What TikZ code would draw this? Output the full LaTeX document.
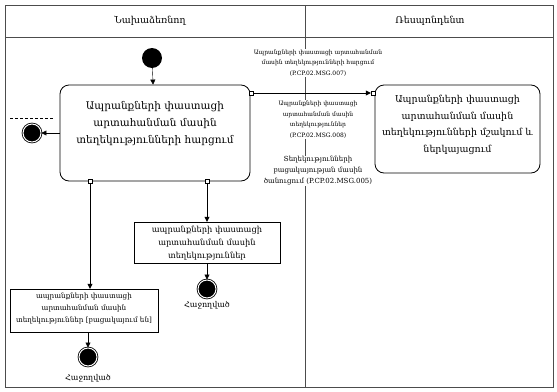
\documentclass[tikz,border=0pt]{standalone}
\usepackage{fontspec}
\setmainfont{DejaVu Serif}
\usetikzlibrary{arrows.meta}
\tikzset{
  lanehead/.style={font=\fontsize{9.5}{11}\selectfont},
  action/.style={draw, rounded corners=9pt, thick},
  actiontext/.style={align=center, inner sep=0pt},
  objbox/.style={draw, fill=white},
  objtext/.style={align=center, inner sep=0pt},
  initst/.style={circle, fill=black, minimum size=20pt, inner sep=0pt},
  finalst/.style={circle, draw, thick, fill=black, double=white, double distance=1pt, minimum size=18pt, inner sep=0pt},
  pinbox/.style={draw, fill=white, minimum size=4pt, inner sep=0pt},
  msglabel/.style={align=center, fill=white, inner sep=1pt, font=\fontsize{6}{10.5}\selectfont},
  flow/.style={-{Triangle[length=5pt,width=5pt]}},
  endlabel/.style={font=\fontsize{8}{10}\selectfont}
}
\begin{document}
\begin{tikzpicture}[x=1pt,y=-1pt]
\useasboundingbox (0,0) rectangle (557,391);
\draw[gray!60!black] (5,5) rectangle (553,387);
\draw[gray!60!black] (5,37) -- (553,37);
\draw[gray!60!black] (305,5) -- (305,387);
\node[lanehead] (h1) at (150,21) {Նախաձեռնող};
\node[lanehead] (h2) at (430,21) {Ռեսպոնդենտ};

\node[initst] (start) at (152,58) {};
\node[action, minimum width=190pt, minimum height=96pt] (req) at (155,133) {};
\node[actiontext, font=\fontsize{10.5}{17}\selectfont] (reqtext) at (155,124)
  {Ապրանքների փաստացի\\արտահանման մասին\\տեղեկությունների հարցում};
\node[action, minimum width=165pt, minimum height=88pt] (proc) at (457.5,129) {};
\node[actiontext, font=\fontsize{9.5}{16.5}\selectfont] (proctext) at (457.5,125)
  {Ապրանքների փաստացի\\արտահանման մասին\\տեղեկությունների մշակում և\\ներկայացում};
\node[finalst] (endL) at (32,133) {};
\coordinate (tagA) at (10,118);
\coordinate (tagB) at (53,118);
\draw[densely dashed, thin] (tagA) -- (tagB);

\node[pinbox] (p1) at (251,93) {};
\node[pinbox] (p2) at (373,93) {};
\node[pinbox] (p3) at (90,181) {};
\node[pinbox] (p4) at (207,181) {};

\node[msglabel] (m7) at (318,63) {Ապրանքների փաստացի արտահանման\\մասին տեղեկությունների հարցում\\(P.CP.02.MSG.007)};
\node[msglabel] (m8) at (318,119.5) {Ապրանքների փաստացի\\արտահանման մասին\\տեղեկություններ\\(P.CP.02.MSG.008)};
\node[msglabel, font=\fontsize{7}{11}\selectfont] (m5) at (318,171) {Տեղեկությունների\\բացակայության մասին\\ծանուցում (P.CP.02.MSG.005)};

\node[objbox, minimum width=146pt, minimum height=41pt] (info) at (207,242.5) {};
\node[objtext, font=\fontsize{8.3}{13}\selectfont] (infotext) at (207,243)
  {ապրանքների փաստացի\\արտահանման մասին\\տեղեկություններ};
\node[finalst] (end1) at (207,289) {};
\node[endlabel] (l1) at (207,305) {Հաջողված};
\node[objbox, minimum width=148pt, minimum height=43pt] (none) at (84,310.5) {};
\node[objtext, font=\fontsize{7.2}{12}\selectfont] (nonetext) at (84,309)
  {ապրանքների փաստացի\\արտահանման մասին\\տեղեկություններ [բացակայում են]};
\node[finalst] (end2) at (88,357) {};
\node[endlabel] (l2) at (88,378) {Հաջողված};

\draw[flow] (start) -- (req);
\draw[flow] (req.west) -- (endL);
\draw[flow] (p1) -- (p2);
\draw[flow] (p4) -- (info);
\draw[flow] (info) -- (end1);
\draw[flow] (p3) -- (p3 |- none.north);
\draw[flow] (none.south -| end2) -- (end2);
\end{tikzpicture}
\end{document}
